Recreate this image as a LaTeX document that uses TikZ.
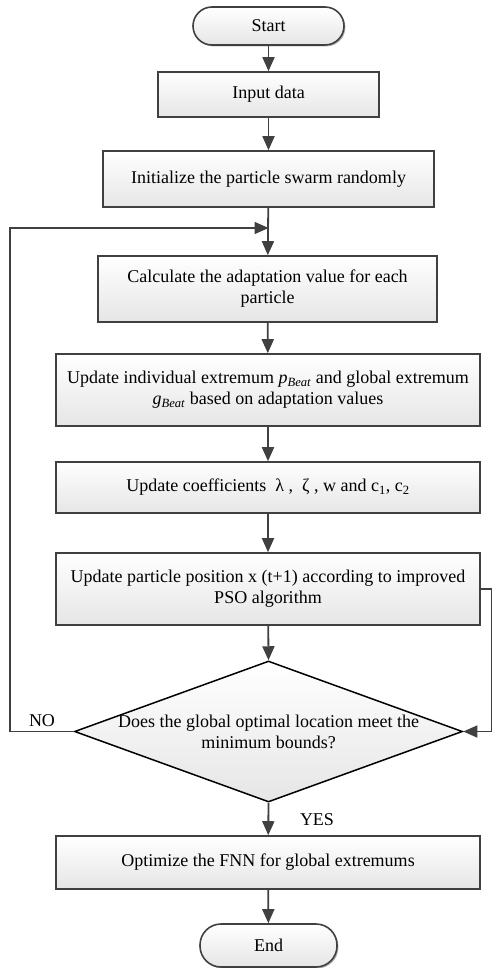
\documentclass[tikz,border=0pt]{standalone}
\usepackage{fontspec}
\setmainfont{Liberation Serif}
\usetikzlibrary{arrows.meta,shadows,shapes.geometric}
\definecolor{ln}{HTML}{404040}
\begin{document}
\begin{tikzpicture}[x=1pt,y=1pt,
  font=\fontsize{18}{21}\selectfont,
  box/.style={draw=ln,line width=1.6pt,rectangle,top color=white,bottom color=black!10,
    drop shadow={shadow xshift=1.4pt,shadow yshift=-1.4pt,fill=black!45,opacity=0.7},
    inner sep=0pt,align=center},
  term/.style={box,rounded corners=#1},
  arr/.style={draw=ln,line width=1.8pt,-{Triangle[length=14pt,width=12pt]}},
  lp/.style={draw=ln,line width=1.5pt,-{Triangle[length=14pt,width=12pt]}}]
\useasboundingbox (0,0) rectangle (492,-968);

\node[term=19pt,minimum width=151pt,minimum height=38pt] (start) at (268.5,-26) {Start};
\node[box,minimum width=221pt,minimum height=45pt] (input) at (268.5,-94.5) {Input data};
\node[box,minimum width=331pt,minimum height=56pt] (init) at (268.5,-179) {Initialize the particle swarm randomly};
\node[box,minimum width=339pt,minimum height=66pt] (calc) at (267.5,-289) {Calculate the adaptation value for each\\particle};
\node[box,minimum width=424pt,minimum height=72pt] (upd) at (268,-390) {Update individual extremum \textit{p}\textsubscript{\textit{Beat}} and global extremum\\\textit{g}\textsubscript{\textit{Beat}} based on adaptation values};
\node[box,minimum width=424pt,minimum height=51pt] (coef) at (268,-487.5) {Update coefficients \ λ , \ ζ , w and c\textsubscript{1}, c\textsubscript{2}};
\node[box,minimum width=424pt,minimum height=72pt] (pos) at (268,-589) {Update particle position x (t+1) according to improved\\PSO algorithm};
\node[diamond,draw=black,line width=1.5pt,top color=white,bottom color=black!10,
  minimum width=388pt,minimum height=141pt,inner sep=0pt] (dia) at (268.5,-731.5) {};
\node[align=center] (diat) at (268.5,-731.5) {Does the global optimal location meet the\\minimum bounds?};
\node[box,minimum width=424pt,minimum height=53pt] (opt) at (268,-862.5) {Optimize the FNN for global extremums};
\node[term=21pt,minimum width=137pt,minimum height=43pt] (end) at (268.5,-945.5) {End};

\node (no) at (42,-721) {NO};
\node (yes) at (317,-820) {YES};

\coordinate (join) at (268.5,-228);
\coordinate (lft) at (10,-731.5);
\coordinate (rgt) at (491.5,-589);

\draw[arr] (start) -- (input);
\draw[arr] (input) -- (init);
\draw[arr] (init) -- (calc);
\draw[arr] (calc) -- (upd);
\draw[arr] (upd) -- (coef);
\draw[arr] (coef) -- (pos);
\draw[arr] (pos) -- (dia.north);
\draw[arr] (dia.south) -- (opt);
\draw[arr] (opt) -- (end);
\draw[lp] (dia.west) -- (lft) |- (join);
\draw[lp] (pos.east) -- (rgt) |- (dia.east);
\end{tikzpicture}
\end{document}
